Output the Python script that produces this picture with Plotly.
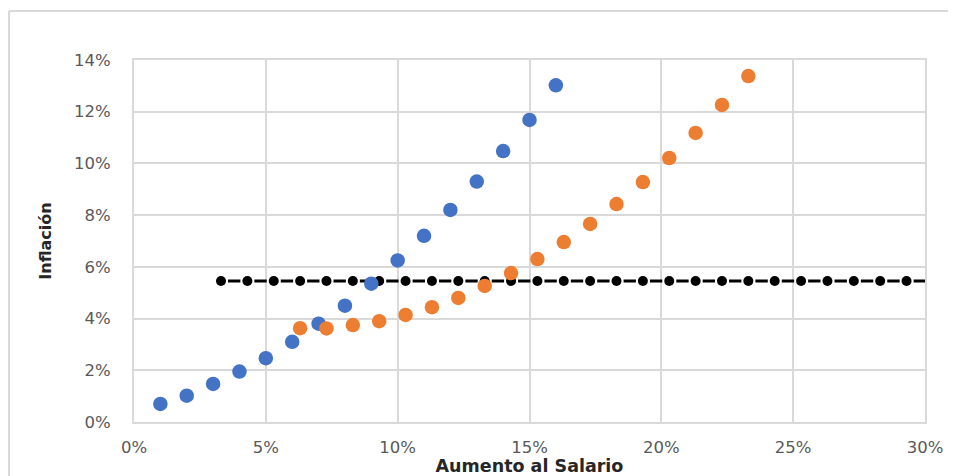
import plotly.graph_objects as go

# Data (percent)
blue_x = [1, 2, 3, 4, 5, 6, 7, 8, 9, 10, 11, 12, 13, 14, 15, 16]
blue_y = [0.70, 1.02, 1.47, 1.95, 2.47, 3.10, 3.80, 4.50, 5.35, 6.25, 7.20, 8.20, 9.30, 10.48, 11.68, 13.02]

orange_x = [6.3, 7.3, 8.3, 9.3, 10.3, 11.3, 12.3, 13.3, 14.3, 15.3, 16.3, 17.3,
            18.3, 19.3, 20.3, 21.3, 22.3, 23.3]
orange_y = [3.63, 3.62, 3.75, 3.90, 4.14, 4.44, 4.80, 5.26, 5.76, 6.30, 6.96, 7.66,
            8.43, 9.28, 10.21, 11.18, 12.26, 13.38]

black_x = [3.3, 4.3, 5.3, 6.3, 7.3, 8.3, 9.3, 10.3, 11.3, 12.3, 13.3, 14.3, 15.3, 16.3,
           17.3, 18.3, 19.3, 20.3, 21.3, 22.3, 23.3, 24.3, 25.3, 26.3, 27.3, 28.3, 29.3]
black_level = 5.45
black_y = [black_level] * len(black_x)

x_ticks = [0, 5, 10, 15, 20, 25, 30]
y_ticks = [0, 2, 4, 6, 8, 10, 12, 14]
x_title = "Aumento al Salario"
y_title = "Inflación"

# page body has an 8px margin; size the figure so the plot area lands where the reference has it
OFF = 8
W, H = 956 - OFF, 476 - OFF
ml, mr, mt, mb = 134 - OFF, 31, 60 - OFF, 53.5
pw = W - ml - mr
ph = H - mt - mb

grid = "#d9d9d9"
tick_font = dict(family="DejaVu Sans", size=16.5, color="#595959")

fig = go.Figure()

# black dashed line across to axis end
fig.add_trace(go.Scatter(
    x=[black_x[0], x_ticks[-1]], y=[black_level, black_level], mode="lines",
    line=dict(color="black", width=3, dash="0px,7px,12.37px,7px"),
    hoverinfo="skip", showlegend=False))
fig.add_trace(go.Scatter(
    x=black_x, y=black_y, mode="markers",
    marker=dict(color="black", size=10), showlegend=False))
fig.add_trace(go.Scatter(
    x=blue_x, y=blue_y, mode="markers",
    marker=dict(color="#4472C4", size=14.5), showlegend=False))
fig.add_trace(go.Scatter(
    x=orange_x, y=orange_y, mode="markers",
    marker=dict(color="#ED7D31", size=14.5), showlegend=False))

fig.update_layout(
    width=W, height=H,
    margin=dict(l=ml, r=mr, t=mt, b=mb, autoexpand=False),
    paper_bgcolor="white", plot_bgcolor="white",
    showlegend=False,
)

fig.update_xaxes(
    range=[x_ticks[0], x_ticks[-1]], tickvals=x_ticks,
    ticktext=[f"{v}%" for v in x_ticks],
    showgrid=True, gridcolor=grid, gridwidth=2,
    showline=True, linecolor=grid, linewidth=2, mirror=True,
    zeroline=False, ticks="", tickfont=tick_font, ticklabelstandoff=9,
    title=dict(text=x_title, font=dict(family="DejaVu Sans", size=17.5, color="#262626", weight="bold"),
               standoff=0),
    automargin=False,
)
fig.update_yaxes(
    range=[y_ticks[0], y_ticks[-1]], tickvals=y_ticks,
    ticktext=[f"{v}%" for v in y_ticks],
    showgrid=True, gridcolor=grid, gridwidth=2,
    showline=True, linecolor=grid, linewidth=2, mirror=True,
    zeroline=False, ticks="", tickfont=tick_font, ticklabelstandoff=18,
    title=dict(text=y_title, font=dict(family="DejaVu Sans", size=16, color="#262626", weight="bold"),
               standoff=18),
    automargin=False,
)

# outer chart frame: only its left and top edges are inside the picture
fx0 = (1 - ml) / pw
fx1 = (W + 60 - ml) / pw
fy0 = (H - mb - (H + 60)) / ph
fy1 = (H - mb - 3) / ph
fig.add_shape(type="line", xref="paper", yref="paper", x0=fx0, x1=fx0, y0=fy0, y1=fy1,
              line=dict(color=grid, width=2), layer="below")
fig.add_shape(type="line", xref="paper", yref="paper", x0=fx0, x1=fx1, y0=fy1, y1=fy1,
              line=dict(color=grid, width=2), layer="below")

fig.write_html("out.html")
